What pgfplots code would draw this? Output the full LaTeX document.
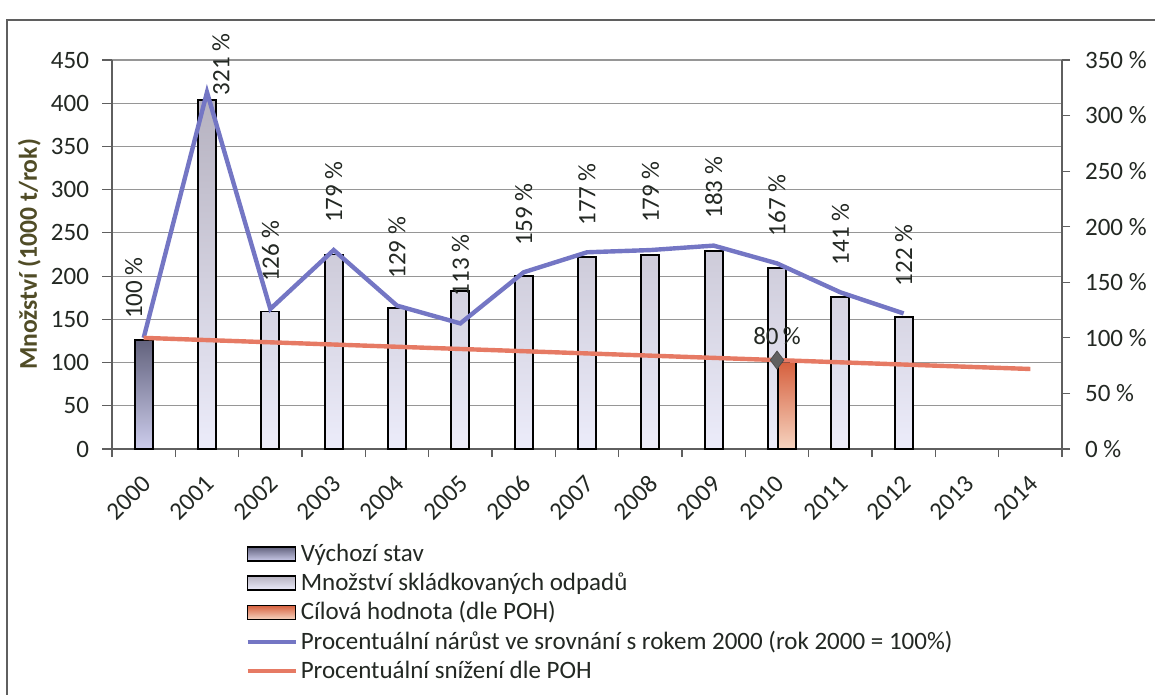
\documentclass[border=0pt]{standalone}
\usepackage{pgfplots}
\pgfplotsset{compat=1.18}
\usepackage{fontspec}
\setmainfont{Carlito}
\definecolor{mnozTop}{RGB}{182,178,192}
\definecolor{mnozMid}{RGB}{214,210,238}
\definecolor{mnozBot}{RGB}{236,236,250}
\definecolor{vychTop}{RGB}{98,98,125}
\definecolor{vychBot}{RGB}{205,205,236}
\definecolor{cilTop}{RGB}{214,96,62}
\definecolor{cilBot}{RGB}{246,212,192}
\definecolor{lineBlue}{RGB}{116,118,196}
\definecolor{lineRed}{RGB}{230,122,100}
\definecolor{axisGray}{RGB}{95,95,95}
\definecolor{gridGray}{RGB}{150,150,150}
\definecolor{ylabCol}{RGB}{80,76,38}
\definecolor{txtCol}{RGB}{35,40,35}
\pgfplotsset{
  barleg/.style={legend image code/.code={\draw[##1,line width=0.8pt] (0pt,-3.5pt) rectangle (24pt,3.5pt);}},
  lineleg/.style={legend image code/.code={\draw[##1] (0pt,0pt) -- (24pt,0pt);}},
}
\begin{document}
\begin{tikzpicture}
\path[use as bounding box] (0pt,0pt) rectangle (577.5pt,-347.5pt);
\draw[axisGray, line width=0.6pt] (3.5pt,-347.5pt) -- (3.5pt,-10pt) -- (577.5pt,-10pt);
\begin{axis}[
  at={(56pt,-224.5pt)}, anchor=south west,
  scale only axis, width=475pt, height=194.5pt,
  xmin=-0.5, xmax=14.5, ymin=0, ymax=450,
  axis x line*=bottom, axis y line*=left,
  axis line style={draw=axisGray, line width=0.6pt},
  xtick={0,...,14},
  xticklabels={2000,2001,2002,2003,2004,2005,2006,2007,2008,2009,2010,2011,2012,2013,2014},
  major x tick style={draw=none},
  minor xtick={-0.5,0.5,...,14.5},
  minor x tick style={draw=axisGray, line width=0.6pt},
  minor tick length=4pt,
  major tick length=5pt,
  tick align=outside,
  ytick={0,50,...,450},
  y tick style={draw=axisGray, line width=0.6pt},
  ymajorgrids, grid style={draw=gridGray, line width=0.6pt},
  xticklabel style={xshift=4pt, yshift=-8pt, rotate=45, anchor=east, font=\fontsize{12.5}{14}\selectfont, text=txtCol},
  yticklabel style={font=\fontsize{12.5}{14}\selectfont, text=txtCol, xshift=-3pt},
  ylabel={\bfseries Množství (1000 t/rok)},
  ylabel style={at={(axis description cs:-0.087,0.5)}, anchor=center, font=\fontsize{12.8}{14}\selectfont, text=ylabCol},
  /pgf/number format/assume math mode=true,
  clip=false,
]
\addplot[ybar, bar width=9pt, bar shift=0pt, draw=black, line width=0.9pt,
  top color=vychTop, bottom color=vychBot]
  coordinates {(0,126)};
\addplot[ybar, bar width=9pt, bar shift=0pt, draw=black, line width=0.9pt,
  top color=mnozTop, middle color=mnozMid, bottom color=mnozBot]
  coordinates {(1,404) (2,159) (3,225) (4,163) (5,183) (6,200) (7,222) (8,224) (9,229) (10,209) (11,176) (12,153)};
\addplot[ybar, bar width=9pt, bar shift=5pt, draw=black, line width=0.9pt,
  top color=cilTop, bottom color=cilBot]
  coordinates {(10,101)};
\end{axis}
\begin{axis}[
  at={(56pt,-224.5pt)}, anchor=south west,
  scale only axis, width=475pt, height=194.5pt,
  xmin=-0.5, xmax=14.5, ymin=0, ymax=350,
  axis x line=none, axis y line*=right,
  axis line style={draw=axisGray, line width=0.6pt},
  ytick={0,50,...,350},
  tick align=outside, major tick length=4pt,
  y tick style={draw=axisGray, line width=0.6pt},
  yticklabel={\pgfmathprintnumber{\tick} \%},
  yticklabel style={font=\fontsize{12.5}{14}\selectfont, text=txtCol, xshift=4pt},
  /pgf/number format/assume math mode=true,
  clip=false,
  legend style={at={(axis description cs:0.14,-0.235)}, anchor=north west, draw=none, fill=none,
    font=\fontsize{12.5}{14}\selectfont, text=txtCol, row sep=1.2pt, inner sep=0pt,
    nodes={inner xsep=1.5pt, inner ysep=1.5pt}},
  legend cell align=left,
]
\addlegendimage{barleg, draw=black, top color=vychTop, bottom color=vychBot}
\addlegendentry{Výchozí stav}
\addlegendimage{barleg, draw=black, top color=mnozTop, middle color=mnozMid, bottom color=mnozBot}
\addlegendentry{Množství skládkovaných odpadů}
\addlegendimage{barleg, draw=black, top color=cilTop, bottom color=cilBot}
\addlegendentry{Cílová hodnota (dle POH)}
\addplot[lineBlue, line width=2.2pt, mark=none, lineleg]
  coordinates {(0,100) (1,321) (2,126) (3,179) (4,129) (5,113) (6,159) (7,177) (8,179) (9,183) (10,167) (11,141) (12,122)};
\addlegendentry{Procentuální nárůst ve srovnání s rokem 2000 (rok 2000 = 100\%)}
\addplot[lineRed, line width=2.2pt, mark=none, lineleg]
  coordinates {(0,100) (1,98) (2,96) (3,94) (4,92) (5,90) (6,88) (7,86) (8,84) (9,82) (10,80) (11,78) (12,76) (13,74) (14,72)};
\addlegendentry{Procentuální snížení dle POH}
\addplot[only marks, mark=diamond*, mark size=4.5pt, mark options={fill=gray!75!black, draw=gray!60!black},
  nodes near coords={80\,\%}, nodes near coords style={anchor=south, yshift=4pt, font=\fontsize{12.5}{14}\selectfont, text=txtCol}, forget plot]
  coordinates {(10,80)};
% percentage labels
\addplot[draw=none, mark=none, forget plot, point meta=y,
  nodes near coords={\pgfmathprintnumber{\pgfplotspointmeta} \%},
  nodes near coords style={xshift=-5pt, yshift=6pt, rotate=90, anchor=west, font=\fontsize{12.5}{14}\selectfont, text=txtCol}]
  coordinates {(0,100)};
\addplot[draw=none, mark=none, forget plot, point meta=y,
  nodes near coords={\pgfmathprintnumber{\pgfplotspointmeta} \%},
  nodes near coords style={xshift=7pt, yshift=-5pt, rotate=90, anchor=west, font=\fontsize{12.5}{14}\selectfont, text=txtCol}]
  coordinates {(1,321)};
\addplot[draw=none, mark=none, forget plot, point meta=y,
  nodes near coords={\pgfmathprintnumber{\pgfplotspointmeta} \%},
  nodes near coords style={yshift=10pt, rotate=90, anchor=west, font=\fontsize{12.5}{14}\selectfont, text=txtCol}]
  coordinates {(2,126) (3,179) (4,129) (5,113) (6,159) (7,177) (8,179) (9,183) (10,167) (11,141) (12,122)};
\end{axis}
\end{tikzpicture}
\end{document}
